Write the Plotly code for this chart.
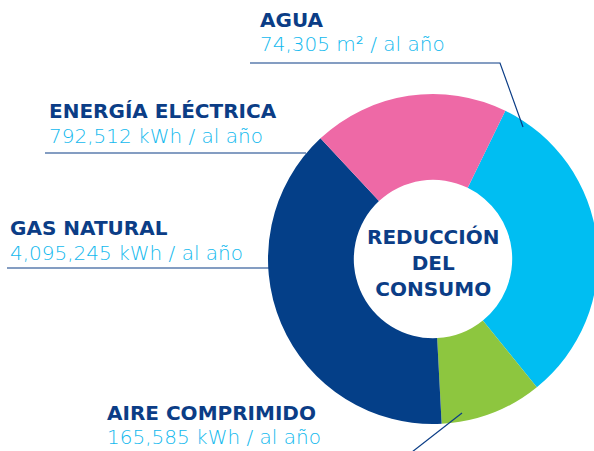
import plotly.graph_objects as go

W, H = 604, 451   # figure slightly wider than the 594px window so the donut is clipped at the right like the reference

# ---- data ----
categories = ["AGUA", "AIRE COMPRIMIDO", "GAS NATURAL", "ENERGÍA ELÉCTRICA"]
value_labels = ["74,305 m² / al año", "165,585 kWh / al año",
                "4,095,245 kWh / al año", "792,512 kWh / al año"]
slice_shares = [115, 36, 140, 69]   # visual slice sizes (degrees)
slice_colors = ["#00BEF2", "#8DC63F", "#043F88", "#EE69A6"]
center_title = "REDUCCIÓN<br>DEL<br>CONSUMO"

DARK = "#0B3D86"
CYAN = "#12B9EE"

def px(x):
    return x / W

def py(y):
    return 1 - y / H

fig = go.Figure(go.Pie(
    labels=categories,
    values=slice_shares,
    marker=dict(colors=slice_colors, line=dict(width=0)),
    hole=0.48,
    sort=False,
    direction="clockwise",
    rotation=26,
    textinfo="none",
    hoverinfo="label",
    showlegend=False,
    domain=dict(x=[px(268), px(598)], y=[py(424), py(94)]),
))

# label positions (pixels): (x, title_y, value_y)
label_pos = {
    "AGUA": (258, 20, 44),
    "ENERGÍA ELÉCTRICA": (47, 111, 136),
    "GAS NATURAL": (8, 228, 253),
    "AIRE COMPRIMIDO": (105, 413, 437),
}

annotations = []
for cat, val in zip(categories, value_labels):
    x, ty, vy = label_pos[cat]
    annotations.append(dict(
        x=px(x), y=py(ty), xref="paper", yref="paper",
        xanchor="left", yanchor="middle", showarrow=False,
        text=cat, font=dict(family="DejaVu Sans", size=20, color=DARK, weight="bold"),
    ))
    annotations.append(dict(
        x=px(x), y=py(vy), xref="paper", yref="paper",
        xanchor="left", yanchor="middle", showarrow=False,
        text=val, font=dict(family="DejaVu Sans", size=20, color=CYAN, weight=200),
    ))

annotations.append(dict(
    x=px(433), y=py(263), xref="paper", yref="paper",
    xanchor="center", yanchor="middle", showarrow=False, align="center",
    text=center_title, font=dict(family="DejaVu Sans", size=20, color=DARK, weight="bold"),
))

line_style = dict(color=DARK, width=1.2)
shapes = [
    dict(type="path", xref="paper", yref="paper",
         path=f"M {px(250)},{py(63)} L {px(500)},{py(63)} L {px(523)},{py(127)}",
         line=line_style),
    dict(type="line", xref="paper", yref="paper",
         x0=px(45), y0=py(153), x1=px(306), y1=py(153), line=line_style),
    dict(type="line", xref="paper", yref="paper",
         x0=px(7), y0=py(268), x1=px(270), y1=py(268), line=line_style),
    dict(type="line", xref="paper", yref="paper",
         x0=px(462), y0=py(413), x1=px(412), y1=py(452), line=line_style),
]

fig.update_layout(
    width=W, height=H,
    margin=dict(l=0, r=0, t=0, b=0),
    paper_bgcolor="white", plot_bgcolor="white",
    annotations=annotations,
    shapes=shapes,
)

fig.write_html("out.html",
               config={"displayModeBar": False},
               post_script="document.body.style.margin='0';document.body.style.overflow='hidden';")
